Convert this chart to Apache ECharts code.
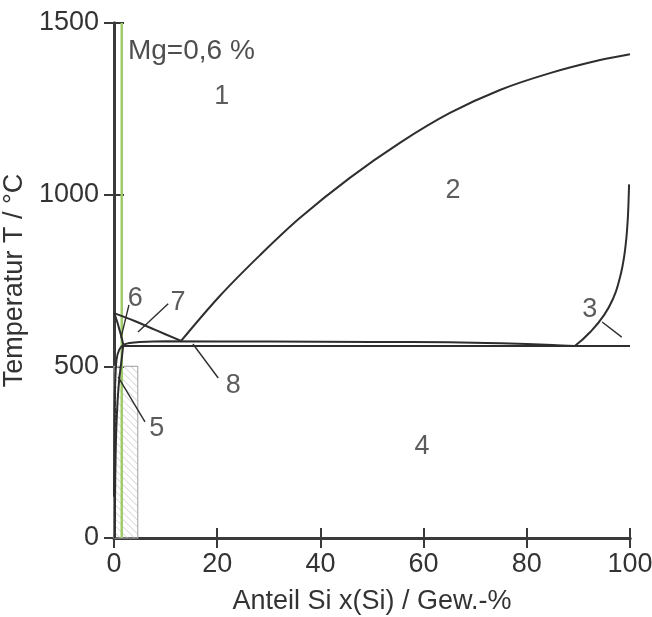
<!DOCTYPE html>
<html>
<head>
<meta charset="utf-8">
<script src="https://cdn.jsdelivr.net/npm/echarts@6/dist/echarts.min.js"></script>
<style>
  html, body { margin: 0; padding: 0; background: #fff; }
  #chart { width: 652px; height: 617px; }
</style>
</head>
<body>
<div id="chart"></div>
<script>
// Al–Si section at Mg = 0,6 %: phase boundaries as [Si in wt.-%, T in °C]
var liquidusAl   = [[0, 655], [4, 632], [8, 606], [13, 574]];
var liquidusSi   = [[13, 574], [20.5, 705], [28.3, 824], [36, 932], [45.7, 1049], [55.4, 1151],
                    [65.1, 1238], [74.8, 1305], [84.5, 1354], [94.2, 1392], [100, 1409]];
var solidusAl    = [[0, 655], [0.4, 640], [0.9, 615], [1.4, 588], [1.8, 563]];
var solvusAl     = [[1.8, 563], [1.4, 510], [1.0, 460], [0.7, 400], [0.45, 320], [0.3, 230], [0.2, 120], [0.15, 0]];
var solvusAlLeft = [[1.8, 563], [1.0, 548], [0.5, 520], [0.25, 460], [0.1, 380], [0.05, 250], [0, 120]];
var upperLine    = [[1.8, 563], [3, 568], [5, 571], [10, 573], [30, 572], [50, 571], [65, 570],
                    [75, 567], [85, 562], [89.3, 559]];
var eutecticLine = [[1.8, 559], [100, 559]];
var solidusSi    = [[89.3, 559], [92.3, 600], [95.0, 650], [96.8, 700], [97.9, 750], [98.65, 800],
                    [99.13, 850], [99.44, 900], [99.64, 950], [99.76, 1000], [99.82, 1030]];
var alloyLine    = [[1.5, 0], [1.5, 1500]];
var hatchedArea  = [[0, 0, 4.6, 500]];

// Region numbers and their leader lines
var regionNames = ['1', '2', '3', '4', '5', '6', '7', '8'];
var regionX     = [20.9, 65.7, 92.2, 59.7, 8.3, 4.1, 12.4, 23.1];
var regionY     = [1285, 1011, 664, 265, 320, 696, 687, 443];
var leaders = [
  [[94.6, 629], [98.4, 585]],   // 3
  [[6.0, 338], [0.8, 469]],     // 5
  [[2.9, 679], [1.35, 583]],    // 6
  [[10.5, 682], [4.65, 600]],   // 7
  [[20.2, 466], [15.3, 565]]    // 8
];
var noteText = 'Mg=0,6 %';
var notePos  = [2.7, 1419];

var xTicks = { min: 0, max: 100, interval: 20 };
var yTicks = { min: 0, max: 1500, interval: 500 };

var FONT = '"Liberation Sans", Arial, Helvetica, sans-serif';
var INK = '#2e2e2e';
var AXIS = '#3a3a3a';
var TXT = '#333333';

function boundary(data, extra) {
  return Object.assign({
    type: 'line', data: data, showSymbol: false, symbol: 'none', smooth: 0.35,
    lineStyle: { color: INK, width: 2 }, silent: true, z: 5, animation: false
  }, extra || {});
}

function plain(v) { return String(v); }

var axisCommon = {
  type: 'value',
  splitLine: { show: false },
  axisLine: { show: true, lineStyle: { color: AXIS, width: 3 } },
  axisTick: { show: true, inside: false, length: 10, lineStyle: { color: AXIS, width: 2 } }
};

var chart = echarts.init(document.getElementById('chart'), null, { renderer: 'canvas' });
chart.setOption({
  animation: false,
  backgroundColor: '#ffffff',
  grid: { left: 114, right: 22, top: 23, bottom: 79, containLabel: false, outerBoundsMode: 'none' },
  xAxis: [
    Object.assign({}, axisCommon, {
      position: 'bottom', min: xTicks.min, max: xTicks.max, interval: xTicks.interval,
      name: 'Anteil Si x(Si) / Gew.-%', nameLocation: 'middle', nameGap: 50,
      nameTextStyle: { fontFamily: FONT, fontSize: 27, color: TXT },
      axisLabel: { fontFamily: FONT, fontSize: 27, color: TXT, margin: 13, formatter: plain }
    }),
    Object.assign({}, axisCommon, {
      position: 'top', min: xTicks.min, max: xTicks.max, interval: xTicks.interval,
      axisLabel: { show: false }
    })
  ],
  yAxis: [
    Object.assign({}, axisCommon, {
      position: 'left', min: yTicks.min, max: yTicks.max, interval: yTicks.interval,
      name: 'Temperatur T / °C', nameLocation: 'middle', nameGap: 72,
      nameTextStyle: { fontFamily: FONT, fontSize: 27, color: TXT },
      axisLabel: { fontFamily: FONT, fontSize: 27, color: TXT, margin: 15, formatter: plain }
    }),
    Object.assign({}, axisCommon, {
      position: 'right', min: yTicks.min, max: yTicks.max, interval: yTicks.interval,
      axisLabel: { show: false }
    })
  ],
  series: [
    {
      type: 'custom', data: hatchedArea, z: 1, silent: true,
      renderItem: function (params, api) {
        var bl = api.coord([api.value(0), api.value(1)]);
        var tr = api.coord([api.value(2), api.value(3)]);
        var x0 = bl[0], y0 = tr[1], w = tr[0] - bl[0], h = bl[1] - tr[1];
        var kids = [];
        var step = 7;
        for (var c = -w; c < h; c += step) {
          var xa = x0, ya = y0 + c;
          if (ya < y0) { xa = x0 + (y0 - ya); ya = y0; }
          var xb = x0 + w, yb = y0 + w + c;
          if (yb > y0 + h) { xb = xb - (yb - (y0 + h)); yb = y0 + h; }
          if (xb > xa) kids.push({ type: 'line', shape: { x1: xa, y1: ya, x2: xb, y2: yb },
                                   style: { stroke: '#cfcfcf', lineWidth: 1 } });
        }
        kids.push({ type: 'rect', shape: { x: x0, y: y0, width: w, height: h },
                    style: { fill: 'none', stroke: '#b0b0b0', lineWidth: 1.2 } });
        return { type: 'group', children: kids };
      }
    },
    boundary(alloyLine, { smooth: false, lineStyle: { color: '#9fcb6b', width: 2.5 }, z: 3 }),
    boundary(liquidusAl),
    boundary(liquidusSi),
    boundary(solidusAl),
    boundary(solvusAl),
    boundary(solvusAlLeft),
    boundary(upperLine),
    boundary(eutecticLine, { smooth: false }),
    boundary(solidusSi, { smooth: 0.5 }),
    {
      type: 'lines', coordinateSystem: 'cartesian2d', polyline: false, silent: true, z: 6,
      data: leaders.map(function (seg) { return { coords: seg }; }),
      lineStyle: { color: INK, width: 1.4, opacity: 1 }
    },
    {
      type: 'scatter', symbolSize: 0, silent: true, z: 7,
      data: regionNames.map(function (n, i) { return { name: n, value: [regionX[i], regionY[i]] }; }),
      label: {
        show: true, position: 'inside', formatter: '{b}',
        fontFamily: FONT, fontSize: 27, color: TXT
      }
    },
    {
      type: 'scatter', symbolSize: 0, silent: true, z: 7,
      data: [{ name: noteText, value: notePos }],
      label: {
        show: true, position: 'right', distance: 0, formatter: '{b}',
        fontFamily: FONT, fontSize: 28, color: '#222'
      }
    }
  ]
});
</script>
</body>
</html>
